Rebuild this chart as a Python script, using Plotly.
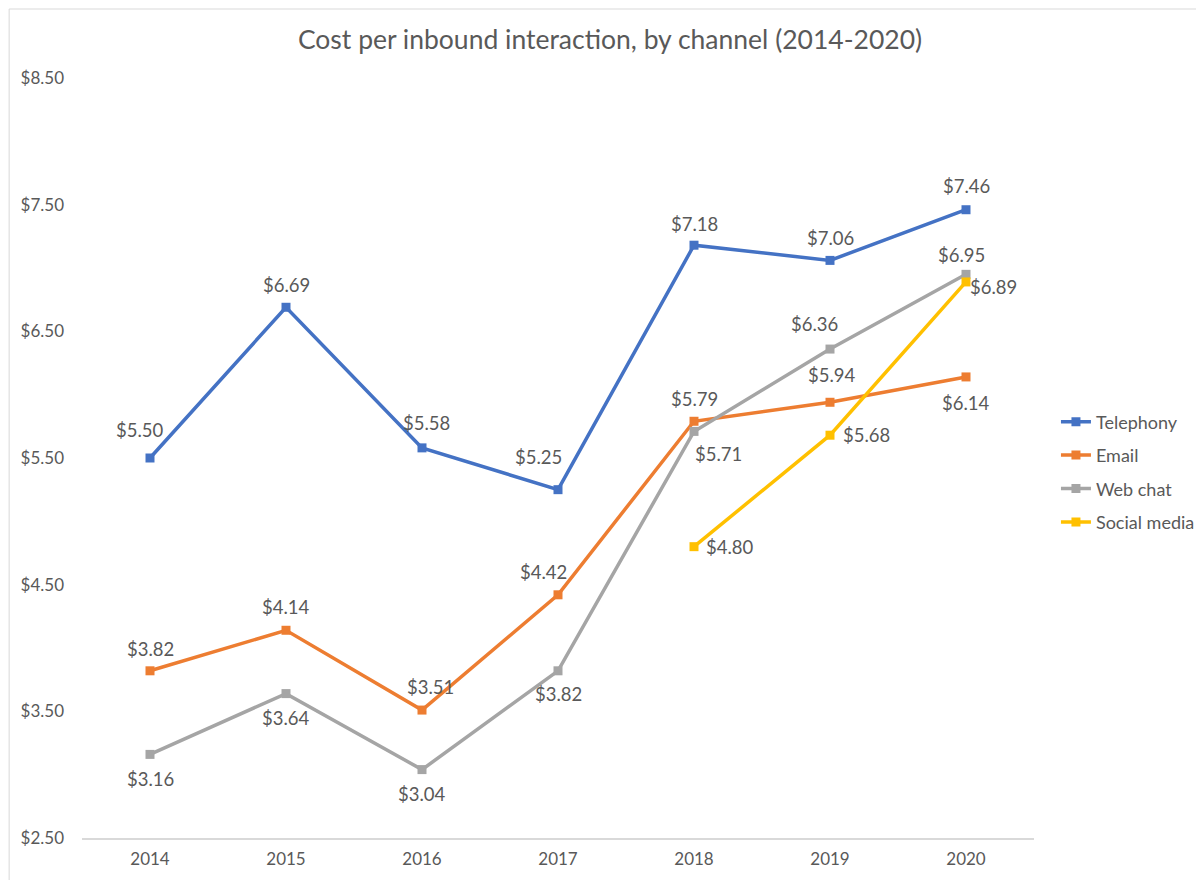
import plotly.graph_objects as go

# data
years = ["2014", "2015", "2016", "2017", "2018", "2019", "2020"]
telephony = [5.50, 6.69, 5.58, 5.25, 7.18, 7.06, 7.46]
email = [3.82, 4.14, 3.51, 4.42, 5.79, 5.94, 6.14]
web_chat = [3.16, 3.64, 3.04, 3.82, 5.71, 6.36, 6.95]
social_media = [None, None, None, None, 4.80, 5.68, 6.89]

y_ticks = [2.5, 3.5, 4.5, 5.5, 6.5, 7.5, 8.5]

FONT = "Lato, 'Open Sans', sans-serif"
GREY_TXT = "#595959"

# label offsets in pixels (dx, dy up), matching the hand-placed labels
tel_off = [(-10, 28), (0, 22), (4, 25), (-20, 33), (0, 21), (0, 22), (0, 24)]
email_off = [(0, 22), (0, 23), (8, 23), (-15, 23), (0, 22), (2, 27), (0, -26)]
web_off = [(0, -25), (0, -24), (0, -24), (0, -23), (24, -23), (-16, 25), (-5, 19)]
social_off = [None, None, None, None, (36, 0), (36, 0), (27, -5)]

series = [
    ("Telephony", telephony, "#4472C4", tel_off),
    ("Email", email, "#ED7D31", email_off),
    ("Web chat", web_chat, "#A5A5A5", web_off),
    ("Social media", social_media, "#FFC000", social_off),
]

fig = go.Figure()
for name, vals, color, offs in series:
    fig.add_trace(go.Scatter(
        x=years, y=vals, name=name, legendgroup=name,
        mode="lines+markers",
        line=dict(color=color, width=3.5),
        marker=dict(symbol="square", size=9, color=color),
        connectgaps=False,
        cliponaxis=False,
    ))
    # data labels (category axis -> position by category index)
    for i, (v, off) in enumerate(zip(vals, offs)):
        if v is None:
            continue
        fig.add_annotation(x=i, y=v, xref="x", yref="y",
                           text="$" + f"{v:.2f}", showarrow=False,
                           xshift=off[0], yshift=off[1],
                           font=dict(family=FONT, size=18.5, color=GREY_TXT))

fig.update_layout(
    width=1204, height=880,
    margin=dict(l=74, r=176, t=70, b=50),
    paper_bgcolor="white", plot_bgcolor="white",
    font=dict(family=FONT, color=GREY_TXT, size=17),
    title=dict(text="Cost per inbound interaction, by channel (2014-2020)",
               x=0.5, xanchor="center", y=1 - 32 / 880, yanchor="middle",
               font=dict(size=26.5, color=GREY_TXT, family=FONT)),
    legend=dict(x=(1058 - 82) / 954, xanchor="left", y=(837 - 471) / 760, yanchor="middle",
                font=dict(size=18, color=GREY_TXT), tracegroupgap=7,
                bgcolor="rgba(0,0,0,0)"),
    showlegend=True,
)
fig.update_xaxes(type="category", range=[-0.5, 6.5], showgrid=False,
                 showline=True, linecolor="#d9d9d9", linewidth=1.5,
                 ticks="", ticklabelstandoff=5, zeroline=False,
                 tickfont=dict(size=17, color=GREY_TXT))
fig.update_yaxes(range=[2.5, 8.5], tickvals=y_ticks, tickformat="$.2f",
                 showgrid=False, showline=False, zeroline=False, ticks="",
                 ticklabelstandoff=17, tickfont=dict(size=17, color=GREY_TXT))

# chart border like the spreadsheet chart frame
fig.add_shape(type="rect", xref="paper", yref="paper",
              x0=(9 - 82) / 954, x1=1.3, y0=-0.2, y1=(837 - 8) / 760,
              line=dict(color="#d9d9d9", width=1), fillcolor="rgba(0,0,0,0)",
              layer="below")

fig.write_html("out.html")
